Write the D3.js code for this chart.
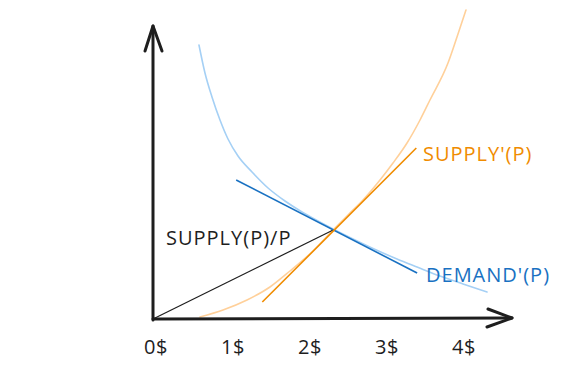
<!DOCTYPE html>
<html><head><meta charset="utf-8">
<script src="https://cdn.jsdelivr.net/npm/d3@7"></script>
<style>html,body{margin:0;padding:0;background:#fff;}svg{display:block;}</style>
</head><body>
<svg id="chart" width="563" height="372"></svg>
<script>
// Price ticks
const tickValues = [0, 1, 2, 3, 4];
const tickLabels = ["0$", "1$", "2$", "3$", "4$"];

// DEMAND(P) curve (price, quantity)
const demandPrice = [0.597, 0.675, 0.766, 0.870, 0.974, 1.104, 1.286, 1.494, 1.714, 1.935, 2.143, 2.338, 2.558, 2.857, 3.169, 3.429, 3.727, 4.026, 4.338];
const demandQty   = [274, 246, 222, 199, 180, 163, 147, 131, 118, 107, 98, 90, 81.5, 70.5, 60, 52, 43, 35, 27];

// SUPPLY(P) curve
const supplyPrice = [0.610, 0.909, 1.221, 1.519, 1.779, 2.078, 2.338, 2.532, 2.727, 2.948, 3.117, 3.299, 3.468, 3.597, 3.831, 3.948, 4.065];
const supplyQty   = [2, 9, 19, 32, 48, 68, 89, 104, 119, 139, 156, 176, 199, 219, 256, 282, 309];

// Tangent lines
const demandTanPrice = [1.08, 3.43];
const demandTanQty   = [139, 46];
const supplyTanPrice = [1.42, 3.42];
const supplyTanQty   = [17, 171];
const ratioPrice = [0, 2.34];
const ratioQty   = [0, 89];

const svg = d3.select("#chart");
const x = d3.scaleLinear().domain([0, 4]).range([153, 461]);
const y = d3.scaleLinear().domain([0, 300]).range([319, 19]);

const FONT = "'Open Sans', 'Noto Sans', sans-serif";
const zip = (a, b) => a.map((v, i) => [v, b[i]]);
const curve = d3.line().x(d => x(d[0])).y(d => y(d[1])).curve(d3.curveMonotoneX);
const straight = d3.line().x(d => x(d[0])).y(d => y(d[1]));

// Light curves
svg.append("path").attr("d", curve(zip(demandPrice, demandQty)))
  .attr("fill", "none").attr("stroke", "#a5d0f5").attr("stroke-width", 1.6).attr("stroke-linecap", "round");
svg.append("path").attr("d", curve(zip(supplyPrice, supplyQty)))
  .attr("fill", "none").attr("stroke", "#ffd09a").attr("stroke-width", 1.6).attr("stroke-linecap", "round");

// Tangent / ratio lines
svg.append("path").attr("d", straight(zip(ratioPrice, ratioQty)))
  .attr("fill", "none").attr("stroke", "#1e1e1e").attr("stroke-width", 1.2);
svg.append("path").attr("d", straight(zip(demandTanPrice, demandTanQty)))
  .attr("fill", "none").attr("stroke", "#1971c2").attr("stroke-width", 1.6);
svg.append("path").attr("d", straight(zip(supplyTanPrice, supplyTanQty)))
  .attr("fill", "none").attr("stroke", "#f08c00").attr("stroke-width", 1.6);

// Axes
const axisG = svg.append("g").attr("fill", "none").attr("stroke", "#1e1e1e")
  .attr("stroke-width", 3).attr("stroke-linecap", "round").attr("stroke-linejoin", "round");
axisG.append("path").attr("d", "M153,320 L153,26");
axisG.append("path").attr("d", "M145,51 L153,26 L162,51");
axisG.append("path").attr("d", "M153,319 L512,318");
axisG.append("path").attr("d", "M488,309 L512,318 L487,327");

// Tick labels
svg.append("g").selectAll("text").data(tickValues).join("text")
  .attr("x", d => x(d) + 3).attr("y", 354)
  .attr("text-anchor", "middle")
  .attr("font-family", FONT).attr("font-size", 20).attr("letter-spacing", 0.5)
  .attr("fill", "#1e1e1e")
  .text((d, i) => tickLabels[i]);

// Curve labels
const labels = [
  {t: "SUPPLY'(P)", x: 423, y: 161, c: "#f08c00"},
  {t: "DEMAND'(P)", x: 426, y: 282, c: "#1971c2"},
  {t: "SUPPLY(P)/P", x: 166, y: 245, c: "#1e1e1e"}
];
svg.append("g").selectAll("text").data(labels).join("text")
  .attr("x", d => d.x).attr("y", d => d.y)
  .attr("font-family", FONT).attr("font-size", 20).attr("letter-spacing", 1)
  .attr("fill", d => d.c)
  .text(d => d.t);
</script>
</body></html>
